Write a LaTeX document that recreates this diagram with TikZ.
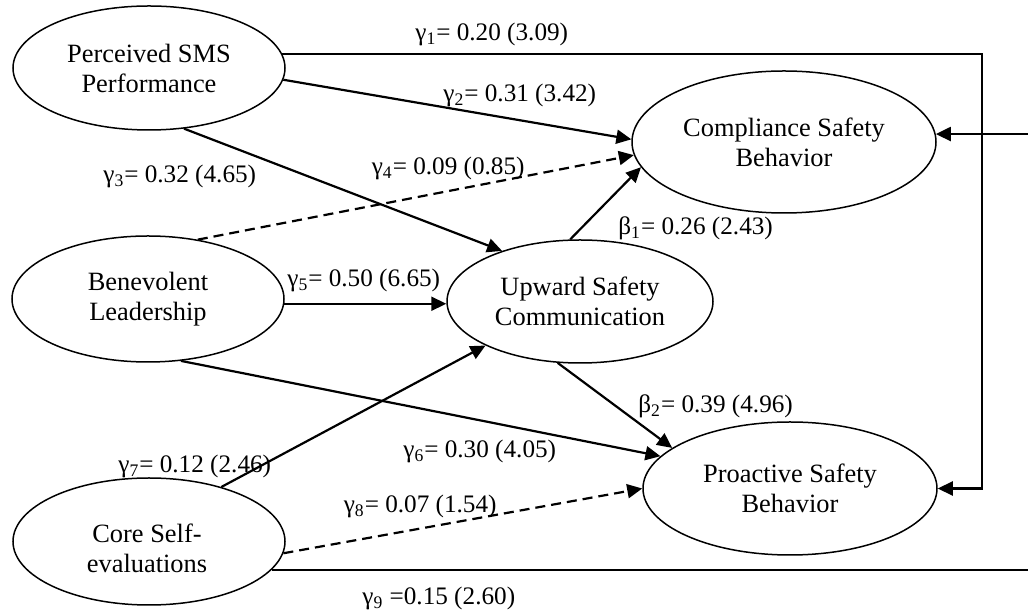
\documentclass[tikz,border=0pt]{standalone}
\usepackage{fontspec}
\setmainfont{Liberation Serif}
\usetikzlibrary{shapes.geometric,arrows.meta}
\begin{document}
\begin{tikzpicture}[x=0.5pt,y=-0.5pt,
  ell/.style={draw,ellipse,line width=0.75pt,inner sep=0pt,align=center,font=\fontsize{13.2}{15}\selectfont},
  txt/.style={inner sep=0pt,align=center,font=\fontsize{13.2}{15}\selectfont},
  conn/.style={line width=1.1pt,-{Triangle[length=7.5pt,width=7pt]}},
  plainline/.style={line width=1.1pt},
  dsh/.style={dash pattern=on 5pt off 3pt},
  lab/.style={font=\fontsize{12.6}{14}\selectfont,inner sep=0pt}]
\path[use as bounding box] (0,0) rectangle (1028,613);

% nodes
\node[ell,minimum width=136pt,minimum height=62pt] (P) at (149,68) {Perceived SMS\\Performance};
\node[ell,minimum width=136pt,minimum height=63pt] (B) at (148,299) {Benevolent\\Leadership};
\node[ell,minimum width=136pt,minimum height=63.5pt] (K) at (149,541.5) {};
\node[txt] (Kt) at (147,548) {Core Self-\\evaluations};
\node[ell,minimum width=133pt,minimum height=61.5pt] (U) at (580,301.5) {Upward Safety\\Communication};
\node[ell,minimum width=152pt,minimum height=71pt] (C) at (784,142) {Compliance Safety\\Behavior};
\node[ell,minimum width=147pt,minimum height=66.5pt] (R) at (790,488.5) {Proactive Safety\\Behavior};

% free coordinates
\coordinate (eR) at (1028,0);
\coordinate (cor) at (982,0);

% connectors
\draw[conn] (P.6) -| (cor |- R.east) -- (R.east);
\draw[conn] (C.3 -| eR) -- (C.3);
\draw[conn] (P.-5) -- (C.179);
\draw[conn] (P.-60) -- (U.147);
\draw[conn,dsh] (B.50) -- (C.185);
\draw[conn] (B.-2) -- (B.-2 -| U.west);
\draw[conn] (B.-62) -- (R.166);
\draw[conn] (K.37) -- (U.205);
\draw[conn,dsh] (K.-5) -- (R.180);
\draw[plainline] (K.-13) -- (K.-13 -| eR);
\draw[conn] (U.99) -- (C.190);
\draw[conn] (U.-110) -- (R.161);

% labels
\node[lab,anchor=base west] (l1) at (415,41) {γ\textsubscript{1}= 0.20 (3.09)};
\node[lab,anchor=base west] (l2) at (443,102) {γ\textsubscript{2}= 0.31 (3.42)};
\node[lab,anchor=base west] (l3) at (103,183) {γ\textsubscript{3}= 0.32 (4.65)};
\node[lab,anchor=base east] (l4) at (525,175) {γ\textsubscript{4}= 0.09 (0.85)};
\node[lab,anchor=base west] (l5) at (287,287) {γ\textsubscript{5}= 0.50 (6.65)};
\node[lab,anchor=base west] (lb1) at (618,235) {β\textsubscript{1}= 0.26 (2.43)};
\node[lab,anchor=base west] (lb2) at (638,413) {β\textsubscript{2}= 0.39 (4.96)};
\node[lab,anchor=base west] (l6) at (403,458) {γ\textsubscript{6}= 0.30 (4.05)};
\node[lab,anchor=base west] (l7) at (118,473) {γ\textsubscript{7}= 0.12 (2.46)};
\node[lab,anchor=base east] (l8) at (497,513) {γ\textsubscript{8}= 0.07 (1.54)};
\node[lab,anchor=base west] (l9) at (362,605) {γ\textsubscript{9} =0.15 (2.60)};
\end{tikzpicture}
\end{document}
